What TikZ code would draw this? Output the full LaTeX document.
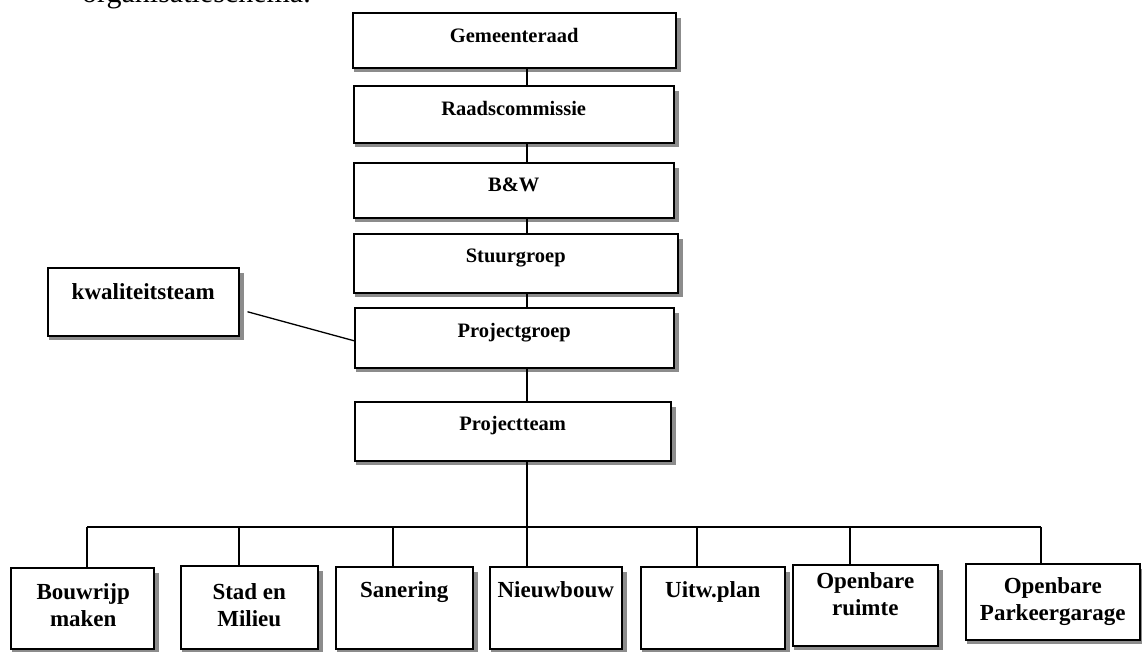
\documentclass[tikz,border=0pt]{standalone}
\usepackage{fontspec}
\setmainfont{Liberation Serif}
\usetikzlibrary{calc}
\tikzset{
  box/.style={draw=black, line width=1.5pt, fill=white, inner sep=0pt, anchor=north west},
  shad/.style={fill=black!45, draw=none},
  lbl/.style={font=\bfseries\fontsize{20.5}{24}\selectfont, inner sep=0pt, anchor=north, align=center},
  lblb/.style={font=\bfseries\fontsize{23}{27}\selectfont, inner sep=0pt, anchor=north, align=center},
  conn/.style={line width=1.3pt}
}
\newcommand\orgbox[5]{%
  \fill[shad] (#4,#3+6) rectangle (#4+6,#5+5);
  \fill[shad] (#2+2,#5) rectangle (#4+6,#5+5);
  \node[box, minimum width={#4-#2}, minimum height={#5-#3}] (#1) at (#2,#3) {};
}
\begin{document}
\begin{tikzpicture}[x=1pt,y=-1pt]
\useasboundingbox (0,0) rectangle (1142,651);
\begin{scope}
\clip (0,0) rectangle (1142,651);
\node[font=\fontsize{30}{34}\selectfont, inner sep=0pt, anchor=base west] (top) at (82,2) {organisatieschema.};
% central column
\orgbox{gr}{352}{12}{675}{67}
\orgbox{rc}{353}{85}{673}{142}
\orgbox{bw}{353}{162}{673}{217}
\orgbox{sg}{353}{233}{677}{292}
\orgbox{pg}{354}{307}{673}{367}
\orgbox{pt}{354}{401}{670}{460}
\orgbox{kw}{47}{267}{238}{335}
% bottom row
\orgbox{b1}{10}{567}{153}{648}
\orgbox{b2}{180}{565}{317}{648}
\orgbox{b3}{335}{566}{472}{648}
\orgbox{b4}{489}{566}{621}{648}
\orgbox{b5}{640}{566}{784}{648}
\orgbox{b6}{792}{564}{937}{645}
\orgbox{b7}{965}{563}{1139}{639}
% labels
\node[lbl] (gr-t) at ($(gr.north)+(0,16)$) {Gemeenteraad};
\node[lbl] (rc-t) at ($(rc.north)+(0,16)$) {Raadscommissie};
\node[lbl] (bw-t) at ($(bw.north)+(0,16)$) {B\&W};
\node[lbl] (sg-t) at ($(sg.north)+(0,16)$) {Stuurgroep};
\node[lbl] (pg-t) at ($(pg.north)+(0,16)$) {Projectgroep};
\node[lbl] (pt-t) at ($(pt.north)+(0,15)$) {Projectteam};
\node[lblb] (kw-t) at ($(kw.north)+(0,16)$) {kwaliteitsteam};
\node[lblb] (b1-t) at ($(b1.north)+(1,16)$) {Bouwrijp\\maken};
\node[lblb] (b2-t) at ($(b2.north)+(0,18)$) {Stad en\\Milieu};
\node[lblb] (b3-t) at ($(b3.north)+(0,15)$) {Sanering};
\node[lblb] (b4-t) at ($(b4.north)+(0,15)$) {Nieuwbouw};
\node[lblb] (b5-t) at ($(b5.north)+(0,15)$) {Uitw.plan};
\node[lblb] (b6-t) at ($(b6.north)+(0,8)$) {Openbare\\ruimte};
\node[lblb] (b7-t) at ($(b7.north)+(0,14)$) {Openbare\\Parkeergarage};
% connectors
\coordinate (cx) at (527,0);
\draw[conn] (gr.south -| cx) -- (rc.north -| cx);
\draw[conn] (rc.south -| cx) -- (bw.north -| cx);
\draw[conn] (bw.south -| cx) -- (sg.north -| cx);
\draw[conn] (sg.south -| cx) -- (pg.north -| cx);
\draw[conn] (pg.south -| cx) -- (pt.north -| cx);
\draw[conn] ($(kw.east)+(8,10)$) -- ($(pg.west)+(0,3)$);
\coordinate (bus1) at (87,527);
\coordinate (bus2) at (239,527);
\coordinate (bus3) at (393,527);
\coordinate (bus4) at (527,527);
\coordinate (bus5) at (697,527);
\coordinate (bus6) at (850,527);
\coordinate (bus7) at (1041,527);
\draw[conn] (bus1) -- (bus7);
\draw[conn] (pt.south -| cx) -- (b4.north -| cx);
\draw[conn] (bus1) -- (bus1 |- b1.north);
\draw[conn] (bus2) -- (bus2 |- b2.north);
\draw[conn] (bus3) -- (bus3 |- b3.north);
\draw[conn] (bus5) -- (bus5 |- b5.north);
\draw[conn] (bus6) -- (bus6 |- b6.north);
\draw[conn] (bus7) -- (bus7 |- b7.north);
\end{scope}
\end{tikzpicture}
\end{document}
